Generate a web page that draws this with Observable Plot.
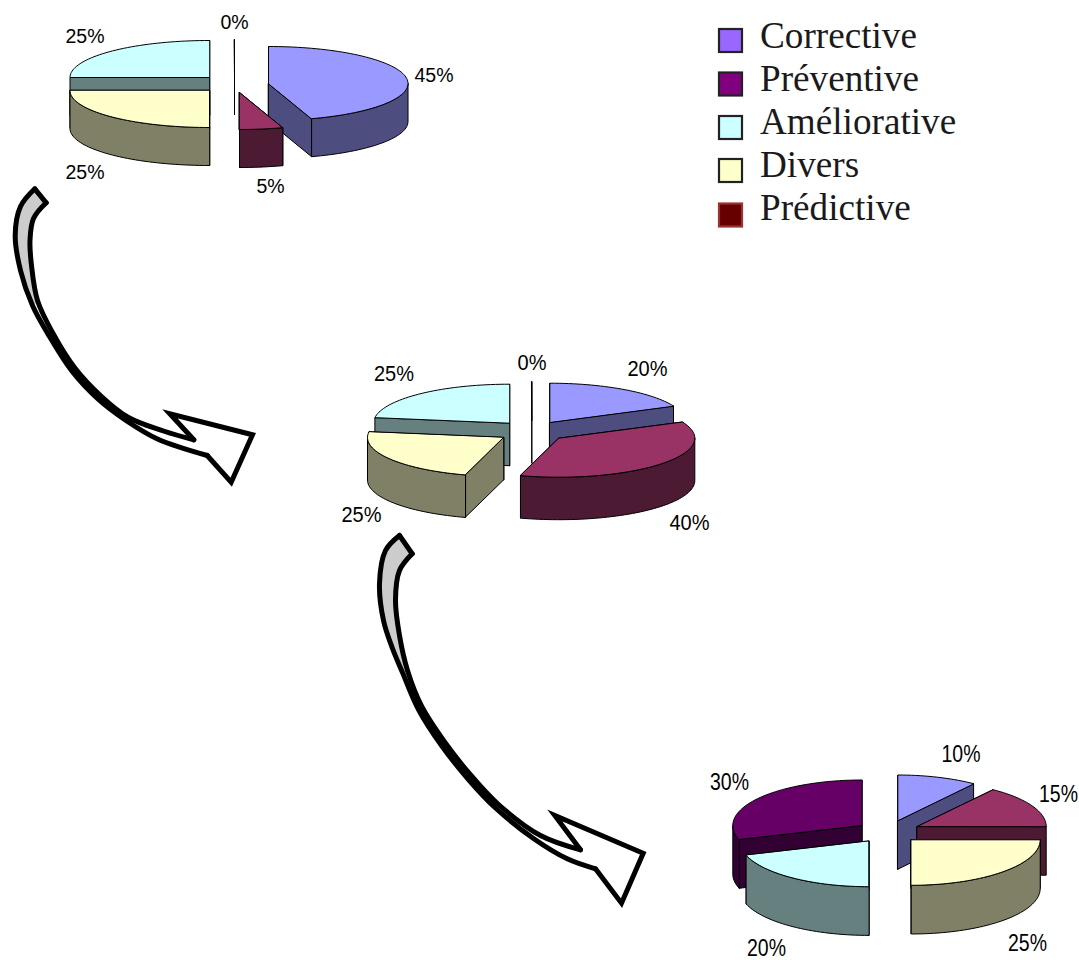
<!DOCTYPE html>
<html lang="fr">
<head>
<meta charset="utf-8">
<title>Répartition de la maintenance</title>
<script src="https://cdn.jsdelivr.net/npm/d3@7"></script>
<script src="https://cdn.jsdelivr.net/npm/@observablehq/plot@0.6"></script>
<style>
  html, body { margin: 0; padding: 0; background: #fff; overflow: hidden; }
  svg { display: block; }
</style>
</head>
<body>
<div id="chart"></div>
<script>
// Slice order of every pie, clockwise from twelve o'clock.
const categories = ["Corrective", "Prédictive", "Divers", "Améliorative", "Préventive"];

// Maintenance shares at each of the three stages.
const stage1 = [45, 5, 25, 25, 0];
const stage2 = [20, 40, 25, 25, 0];
const stage3 = [10, 15, 25, 20, 30];

// Legend entries, top to bottom.
const legendNames = ["Corrective", "Préventive", "Améliorative", "Divers", "Prédictive"];
const legendFills = ["#9966FF", "#800080", "#CCFFFF", "#FFFFCC", "#660000"];
const legendStrokes = ["#222", "#222", "#222", "#222", "#993333"];
const legendBaselines = [36, 79, 122, 165, 208];
const legendBoxTops = [29, 72.5, 116, 159, 203.5];

// Top and wall colours of the slices.
const topColors = {Corrective: "#9999FF", "Prédictive": "#993366", Divers: "#FFFFCC", "Améliorative": "#CCFFFF", "Préventive": "#660066"};
const wallColors = {Corrective: "#4D4D80", "Prédictive": "#4D1A33", Divers: "#808066", "Améliorative": "#668080", "Préventive": "#330033"};

// Placement of each exploded pie; apexes follow the slice order above.
const pies = [
  {
    values: stage1, rx: 139.5, ry: 37, depth: 38,
    apexes: [[268, 83], [239, 92], [209, 90], [209, 77], [234, 76]],
    paintOrder: [4, 3, 2, 0, 1],
    labelXY: [[433.5, 75], [270, 186], [84.5, 172], [84.5, 36], [234, 22]],
    labelSize: 19.5, labelSqueeze: 1
  },
  {
    values: stage2, rx: 136, ry: 39, depth: 42.5,
    apexes: [[549.3, 421.7], [558.3, 437.7], [503, 437], [509, 422.7], [531.3, 420]],
    paintOrder: [4, 0, 3, 2, 1],
    labelXY: [[647, 368], [689, 522], [361, 514], [393.5, 373], [531.5, 362]],
    labelSize: 22, labelSqueeze: 0.91
  },
  {
    values: stage3, rx: 129, ry: 45.5, depth: 48.7,
    apexes: [[897.3, 820], [916.7, 826], [910.7, 839.3], [868.3, 840.7], [861.3, 825]],
    paintOrder: [4, 0, 1, 3, 2],
    labelXY: [[960.5, 754], [1058, 794], [1027, 943], [766, 947.5], [729, 782]],
    labelSize: 24, labelSqueeze: 0.8125
  }
];

// Control points of the two curved arrows: both edges of the ribbon, and the head.
const arrows = [
  {
    outer: [[34.3,188.3],[20,206],[14.7,235],[20,270],[32,305],[49,336],[71,370],[98,399],[125.5,420],[157,438.5],[206.7,455]],
    inner: [[45.7,202.3],[33,218],[29.5,240],[31,265],[37,300],[52,332],[74,367],[101,396],[128,417],[163,430.5],[193.3,439.3]],
    head: [[230.7,481.7],[252,434.3],[169.3,413.3]],
    shadedOuter: 5, shadedInner: 5
  },
  {
    outer: [[399,535],[385,550],[379,583],[383,620],[392,648],[402,672],[418,709],[441,745],[468,779],[494.5,807],[533,838],[566.7,858.3],[595,868.3]],
    inner: [[411.7,553.3],[399,570],[395,600],[399,635],[407,670],[421,705.5],[444.5,742],[471,775.5],[498,804],[540,835],[580,849.3]],
    head: [[621,902.7],[642.7,852.7],[554.3,815]],
    shadedOuter: 6, shadedInner: 5
  }
];

const W = 1079, H = 960;
const rad = d => d * Math.PI / 180;

// Point on a slice's rim at a clockwise angle from the top, dropped by h.
const rim = (apex, p, a, h = 0) => [apex[0] + p.rx * Math.sin(rad(a)), apex[1] - p.ry * Math.cos(rad(a)) + h];

function arc(apex, p, a0, a1, h = 0) {
  const n = Math.max(1, Math.ceil(Math.abs(a1 - a0) / 2));
  return d3.range(n + 1).map(i => rim(apex, p, a0 + (a1 - a0) * i / n, h));
}

// Flatten all pies into closed faces, back to front.
const faces = [];
let faceId = 0;
function addFace(points, fill) {
  const id = faceId++;
  points.forEach(([x, y]) => faces.push({x, y, id, fill}));
}

pies.forEach(p => {
  const total = d3.sum(p.values);
  const stops = d3.cumsum(p.values, v => v * 360 / total);
  p.paintOrder.forEach(i => {
    const name = categories[i];
    const a1 = stops[i], a0 = a1 - p.values[i] * 360 / total;
    const apex = p.apexes[i];
    const wall = wallColors[name];
    // Radial cut faces, the one further back first.
    const cuts = p.values[i] === 0 ? [a1] : [a0, a1];
    cuts.sort((s, t) => Math.cos(rad(t)) - Math.cos(rad(s)));
    cuts.forEach(a => {
      const r = rim(apex, p, a);
      addFace([apex, r, [r[0], r[1] + p.depth], [apex[0], apex[1] + p.depth]], wall);
    });
    // Curved outer wall, on the part of the rim that faces the viewer.
    const w0 = Math.max(a0, 90), w1 = Math.min(a1, 270);
    if (w1 > w0) addFace([...arc(apex, p, w0, w1), ...arc(apex, p, w1, w0, p.depth)], wall);
    // Top of the slice.
    addFace([apex, ...arc(apex, p, a0, a1)], topColors[name]);
  });
});

const pieLabels = pies.map(p => p.values.map((v, i) => ({
  x: p.labelXY[i][0], y: p.labelXY[i][1], text: `${v}%`
})));

const XY = {x: d => d[0], y: d => d[1]};

const arrowMarks = arrows.flatMap(a => {
  const {outer, inner, head} = a;
  const shade = [...outer.slice(0, a.shadedOuter), ...inner.slice(0, a.shadedInner).reverse()];
  const n = outer.length, m = inner.length;
  const line = {...XY, stroke: "#000", strokeWidth: 5, strokeLinejoin: "miter", strokeMiterlimit: 12};
  return [
    Plot.line(shade, {...XY, fill: "#CCCCCC", stroke: "none", curve: "catmull-rom"}),
    Plot.line(outer, {...line, curve: "catmull-rom"}),
    Plot.line(inner, {...line, curve: "catmull-rom"}),
    // Head outline; the notch and shoulder meet the ribbon's ends at sharp corners.
    Plot.line([outer[n - 1], ...head, inner[m - 1]], {...line, curve: "linear"}),
    Plot.line([outer[0], inner[0]], {...line, curve: "linear"})
  ];
});

const legendRows = legendNames.map((name, i) => ({
  name,
  fill: legendFills[i],
  stroke: legendStrokes[i],
  top: legendBoxTops[i],
  base: legendBaselines[i]
}));

const chart = Plot.plot({
  width: W,
  height: H,
  margin: 0,
  x: {domain: [0, W], range: [0, W], axis: null},
  y: {domain: [0, H], range: [0, H], axis: null},
  marks: [
    ...arrowMarks,
    Plot.line(faces, {
      x: "x", y: "y", z: "id",
      fill: {value: "fill", scale: null},
      stroke: "#000", strokeWidth: 1, strokeLinejoin: "round",
      curve: "linear-closed"
    }),
    ...pieLabels.map((labels, k) => Plot.text(labels, {
      x: "x", y: "y", text: "text",
      fontFamily: "Liberation Sans, Arial, sans-serif",
      fontSize: pies[k].labelSize,
      fill: "#000",
      className: `pie-label-${k}`
    })),
    Plot.rect(legendRows, {
      x1: () => 719, x2: () => 742,
      y1: "top", y2: d => d.top + 23,
      fill: {value: "fill", scale: null},
      stroke: {value: "stroke", scale: null},
      strokeWidth: 2.2
    }),
    Plot.text(legendRows, {
      x: () => 759.5, y: "base", text: "name",
      textAnchor: "start",
      fontFamily: "Liberation Serif, Times New Roman, serif",
      fontSize: 37.2,
      fill: "#1a1a1a"
    })
  ]
});

// The percentages of the later pies are set in a narrower cut of the same face.
pies.forEach((p, k) => {
  d3.select(chart).selectAll(`.pie-label-${k} text`).each(function () {
    const place = this.getAttribute("transform");
    if (place) this.setAttribute("transform", `${place} scale(${p.labelSqueeze},1)`);
  });
});

document.getElementById("chart").append(chart);
</script>
</body>
</html>
